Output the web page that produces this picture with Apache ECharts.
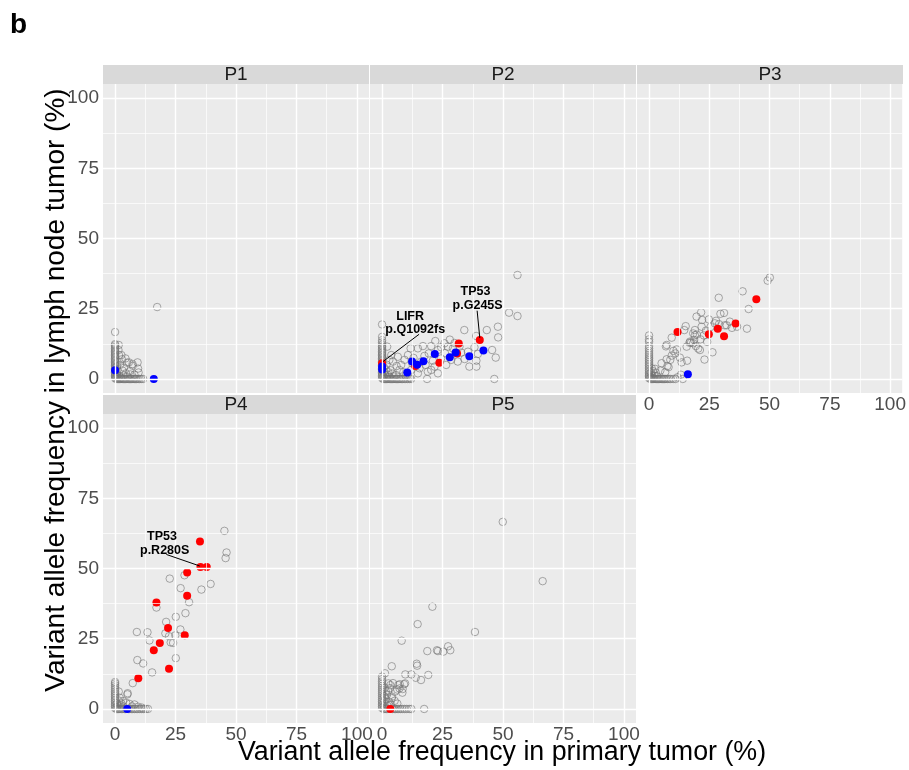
<!DOCTYPE html>
<html><head><meta charset="utf-8">
<script src="https://cdn.jsdelivr.net/npm/echarts@6/dist/echarts.min.js"></script>
<style>html,body{margin:0;padding:0;background:#fff}#c{width:909px;height:770px}</style>
</head><body><div id="c"></div>
<script>
// ---------------- data ----------------
const panelNames = ['P1', 'P2', 'P3', 'P4', 'P5'];
const majorTicks = [0, 25, 50, 75, 100];
const minorTicks = [12.5, 37.5, 62.5, 87.5];
const xTitle = 'Variant allele frequency in primary tumor (%)';
const yTitle = 'Variant allele frequency in lymph node tumor (%)';
const figLetter = 'b';

const p1Gray = [
 [0,0.3],[0,0.8],[0,1.3],[0,1.8],[0,2.3],[0,2.8],[0,3.3],[0,3.8],[0,4.3],[0,4.8],[0,5.3],[0,5.8],[0,6.3],[0,6.8],[0,7.3],[0,7.8],[0,8.3],[0,8.8],[0,9.3],[0,9.8],[0,10.3],[0,10.9],[0,11.4],[0,12.0],[0,12.4],[0,16.7],
 [0.4,0],[0.9,0],[1.4,0],[1.9,0],[2.4,0],[2.9,0],[3.4,0],[3.9,0],[4.4,0],[4.9,0],[5.4,0],[5.9,0],[6.4,0],[6.9,0],[7.4,0],[7.9,0],[8.4,0],[8.9,0],[9.5,0],[10.1,0],[10.8,0],[11.6,0],
 [0.5,0.6],[0.8,1.5],[0.6,2.4],[1.0,3.2],[0.7,4.5],[1.2,0.5],[1.8,1.0],[2.5,0.4],[1.5,12.1],[1.4,10.3],[2.6,8.5],[1.6,8.5],[2.8,7.0],[4.3,7.3],[5.7,5.9],[5.0,5.8],[7.2,5.3],[7.3,4.7],[9.3,5.9],[9.5,3.7],[3.7,4.0],[2.0,5.0],[1.0,6.0],[3.0,3.0],[6.1,2.8],[4.5,2.0],[8.0,1.5],[9.7,2.3],[6.3,1.6],[3.5,1.2],[5.2,0.8],[17.4,25.6]
];
const p1Red = [];
const p1Blue = [[0,3.1],[16,0]];

const p2Gray = [
 [0,0.3],[0,0.8],[0,1.3],[0,1.8],[0,2.3],[0,2.8],[0,3.3],[0,3.8],[0,4.3],[0,4.8],[0,5.3],[0,5.8],[0,6.3],[0,6.8],[0,7.3],[0,7.8],[0,8.3],[0,8.8],[0,9.3],[0,9.8],[0,10.4],[0,11.0],[0,11.6],[0,12.2],[0,13.0],[0,13.8],[0,15.0],[0,19.4],
 [0.4,0],[0.9,0],[1.4,0],[1.9,0],[2.4,0],[2.9,0],[3.4,0],[3.9,0],[4.4,0],[4.9,0],[5.4,0],[5.9,0],[6.4,0],[6.9,0],[7.4,0],[7.9,0],[8.5,0],[9.1,0],[9.8,0],[10.5,0],[11.3,0],[12.0,0],[18.6,0],[46.4,0],
 [0.6,0.8],[1.1,1.6],[0.8,2.6],[1.5,3.4],[0.7,4.2],[1.9,0.6],[2.4,1.5],[3.1,0.7],[2.6,2.4],[3.5,3.1],[1.8,5.1],[4.2,1.9],[4.8,0.9],[5.8,1.4],[2.1,11.5],[3.8,8.5],[6.5,7.9],[7.9,5],[7.2,3.2],[6.0,4.6],[4.5,6.2],[3.0,6.8],[8.8,2.4],[9.8,1.2],
 [10.7,8.5],[11.8,10.9],[14.8,10.9],[16.9,11.7],[20.3,11.7],[19.3,9.1],[23.1,10.3],[24.4,11.3],[25.8,12.7],[27.2,11.5],[29.3,10.9],[32.7,9.4],[34.1,7.1],[36.1,4.4],[39,4.4],[39,6.5],[39.6,8.9],[38.2,11.3],[38.9,15.3],[34,17.4],[43.3,17.4],[47.9,18.6],[48,14.8],[45.5,10.3],[47,7.6],[52.5,23.6],[56,22.4],[56,37],
 [26.5,5],[28.6,6.8],[21.7,4.4],[18.9,2.6],[14.8,2],[12,3.2],[16.2,6.2],[9.3,6.8],[24.4,7.3],[31.3,6.2],[32,11.5],[35.5,9.7],[11.4,0.4],[20.3,3.2],[23.1,2],[15.5,3.8],[13,7.5],[17.5,8.2],[21,6.5],[26,9.2],[30,12.8],[28,14],[22,13.5],[18,5],[12.5,5.5]
];
const p2Red = [[0,5.6],[13.7,4.6],[23.7,5.8],[31,9.1],[31.7,12.6],[40.4,13.9]];
const p2Blue = [[0,4.4],[0,3.4],[10.4,2.3],[12.4,6.2],[14.5,5.1],[17.1,6.3],[21.8,8.9],[28,7.7],[30.4,9.4],[36.1,8.1],[41.9,10.1]];

const p3Gray = [
 [0,0.3],[0,0.8],[0,1.3],[0,1.8],[0,2.4],[0,3.0],[0,3.6],[0,4.2],[0,4.8],[0,5.4],[0,6.0],[0,6.6],[0,7.2],[0,7.8],[0,8.5],[0,9.2],[0,10],[0,10.8],[0,11.7],[0,13.2],[0,14.1],[0,15.5],
 [0.5,0],[1,0],[1.5,0],[2,0],[2.5,0],[3,0],[3.5,0],[4,0],[4.5,0],[5,0],[5.5,0],[6,0],[6.5,0],[7,0],[7.6,0],[8.3,0],[9,0],[10,0],[11,0],[11.8,0.6],[13.2,1.5],[14,0],
 [0.6,0.6],[1.2,1.2],[0.8,2.2],[1.6,0.5],[2.2,1.1],[1.5,2.8],[2.8,2.2],[3.4,1],[1.1,3.8],[2.5,3.6],[4.7,3],[6.7,2.4],[5.2,5.6],[7.3,7],[8.1,4.2],[7.6,4.6],[8.8,6.8],[9.4,8.3],[10.1,10],[10.9,9.1],[11.5,10.5],[12.8,7.6],[13.5,5.9],[7,11.6],[7.3,12.1],[9.4,14.7],[15.8,6.5],[15.6,11.5],[17,13.3],[18.3,12.7],[19,15.6],[21.1,10.3],[21.8,18.6],
 [50.1,36.1],[49.2,35],[38.8,31.2],[28.9,28.9],[41.3,24.9],[21.6,23.7],[19.7,22.2],[29.6,23.2],[31.1,23.5],[24.8,21.2],[22,21],[15.2,18.8],[14.6,17.4],[27.8,20.7],[27.3,19.8],[31.4,19.1],[32.2,19.1],[36.5,18.6],[40.6,17.9],[34.4,18.2],[19,17.4],[19.8,15.8],[18.3,16.2],[16.8,12.9],[17.4,12.9],[18.7,13.9],[19.4,11.7],[20.4,10.8],[21.3,14.1],[22.7,15.5],[23.6,17.2],[24.1,13.2],[26.3,9.5],[23,6.9],[25.5,18.5],[33.5,20.4],[29,19.5]
];
const p3Red = [[11.8,16.7],[24.8,15.9],[28.5,17.9],[31.1,15.2],[35.9,19.7],[44.5,28.4]];
const p3Blue = [[16.1,1.7]];

const p4Gray = [
 [0,0.3],[0,0.9],[0,1.5],[0,2.1],[0,2.7],[0,3.3],[0,3.9],[0,4.5],[0,5.1],[0,5.7],[0,6.3],[0,7],[0,7.7],[0,8.4],[0,9.1],[0,9.6],
 [0.5,0],[1,0],[1.5,0],[2,0],[2.6,0],[3.2,0],[3.8,0],[4.4,0],[5.5,0],[6.1,0],[6.7,0],[7.3,0],[8,0],[8.7,0],[9.4,0],[10.2,0],[11,0],[11.8,0],[12.7,0],[13.6,0],
 [0.6,0.6],[1.1,1.2],[0.8,2.0],[1.5,6.2],[1.9,4],[3.3,2.8],[4.6,2.2],[6,1.8],[8,1.6],[5.1,5.2],[5.2,5.6],[2.4,1.3],[3.6,0.8],[1.5,3],[2.6,2],[7,0.9],[9.5,0.8],[11,0.5],
 [45.2,63.4],[46.1,55.7],[45.7,53.7],[39.5,44.5],[35.7,42.5],[28.7,47.6],[22.6,46.4],[27.1,43],[30.6,38],[17.1,36.1],[29.1,34.1],[25.1,32.8],[27,28.3],[21.1,31],[20.8,26.9],[22.3,25.9],[24.9,26.2],[9,27.4],[13.4,27.3],[14.2,24.4],[23,23.7],[24,23.5],[9.2,17.4],[11.6,16.2],[25.1,18.1],[15.3,13],[7.3,9.2]
];
const p4Red = [[35.1,59.6],[35.3,50.5],[37.9,50.5],[29.8,48.6],[29.8,40.3],[17.1,37.9],[21.9,28.8],[28.8,26.2],[18.5,23.5],[16,20.9],[22.3,14.3],[9.6,10.9]];
const p4Blue = [[5,0]];

const p5Gray = [
 [0,0.3],[0,0.9],[0,1.5],[0,2.1],[0,2.7],[0,3.3],[0,4.0],[0,4.7],[0,5.4],[0,6.1],[0,6.8],[0,7.5],[0,8.2],[0,9.0],[0,9.8],[0,10.6],[0,11.5],
 [0.6,0],[1.2,0],[1.8,0],[2.4,0],[4.4,0],[5,0],[5.6,0],[6.2,0],[6.9,0],[7.6,0],[8.4,0],[9.3,0],[10.2,0],[11.2,0],[12.1,0],[17.4,0],
 [0.7,1],[1.3,1.8],[0.9,2.8],[1.6,3.6],[0.8,4.6],[2,5],[1.5,6.3],[1.1,7.6],[2.5,6.5],[3.3,7.4],[3.4,8.5],[4.5,9.2],[2.6,9.1],[1.2,12.7],[4,15.2],[5.4,6.2],[6.3,6.9],[7.2,7.3],[6.7,8.5],[8.5,7.1],[8.4,5.8],[9.1,8.8],[9.5,9.1],[4,3.8],[4.1,4.4],[3,2.5],[5.2,2.9],[6.3,1.9],[2.2,1.2],[3.6,1.5],[7.3,8.8],[9.6,12.3],[12.1,12.3],[13.9,11.1],[16.1,10.3],[19.1,12.1],
 [49.9,66.6],[66.4,45.5],[20.8,36.4],[14.7,30.2],[38.4,27.4],[8.1,24.3],[27.3,22.3],[18.7,20.6],[22.7,20.9],[23.1,20.6],[25.3,20.4],[28.2,20.9],[14.3,16.1],[14.5,15.4]
];
const p5Red = [[3.4,0]];
const p5Blue = [];

// annotation texts: [panel index, text, x, y]
const annoTexts = [
 [1, 'LIFR', 11.6, 22.2],
 [1, 'p.Q1092fs', 13.7, 17.7],
 [1, 'TP53', 38.6, 31.0],
 [1, 'p.G245S', 39.5, 26.3],
 [3, 'TP53', 19.4, 61.5],
 [3, 'p.R280S', 20.5, 56.4]
];
// annotation segments: [panel index, x1, y1, x2, y2]
const annoSegs = [
 [1, 15.3, 15.9, 0.4, 6.2],
 [1, 39.3, 24.3, 40.4, 14.6],
 [3, 21.2, 55.0, 35.0, 50.9]
];

const grayData = [p1Gray, p2Gray, p3Gray, p4Gray, p5Gray];
const redData = [p1Red, p2Red, p3Red, p4Red, p5Red];
const blueData = [p1Blue, p2Blue, p3Blue, p4Blue, p5Blue];

// ---------------- layout ----------------
const FONT = 'Liberation Sans, Arial, Helvetica, sans-serif';
const PL = [103, 370, 637, 103, 370];
const PT = [84, 84, 84, 414, 414];
const PW = 266, PH = 309, STRIP = 19;
const showX = [false, false, true, true, true];
const showY = [true, false, false, true, false];

const grids = [], xAxes = [], yAxes = [], series = [], graphics = [];

for (let i = 0; i < 5; i++) {
  grids.push({left: PL[i], top: PT[i], width: PW, height: PH, show: true,
    backgroundColor: '#EBEBEB', borderWidth: 0, containLabel: false});
  const common = {
    type: 'value', gridIndex: i, min: -5, max: 105,
    axisLine: {show: false}, splitLine: {show: false}, minorSplitLine: {show: false}
  };
  xAxes.push(Object.assign({}, common, {
    axisTick: {show: showX[i], customValues: majorTicks, length: 3, lineStyle: {color: '#333333', width: 1}},
    axisLabel: {show: showX[i], customValues: majorTicks, color: '#4D4D4D', fontSize: 19, fontFamily: FONT, margin: 2}
  }));
  yAxes.push(Object.assign({}, common, {
    axisTick: {show: showY[i], customValues: majorTicks, length: 3, lineStyle: {color: '#333333', width: 1}},
    axisLabel: {show: showY[i], customValues: majorTicks, color: '#4D4D4D', fontSize: 19, fontFamily: FONT, margin: 4}
  }));

  const ml = [];
  minorTicks.forEach(v => {
    ml.push({xAxis: v, lineStyle: {width: 0.7}});
    ml.push({yAxis: v, lineStyle: {width: 0.7}});
  });
  majorTicks.forEach(v => {
    ml.push({xAxis: v, lineStyle: {width: 1.4}});
    ml.push({yAxis: v, lineStyle: {width: 1.4}});
  });
  series.push({
    type: 'scatter', xAxisIndex: i, yAxisIndex: i, data: [], z: 1, silent: true,
    markLine: {silent: true, symbol: ['none', 'none'], label: {show: false},
      lineStyle: {color: '#FFFFFF', type: 'solid', opacity: 1}, animation: false, data: ml}
  });
  series.push({
    type: 'scatter', xAxisIndex: i, yAxisIndex: i, data: grayData[i], z: 2,
    symbol: 'circle', symbolSize: 7.5,
    itemStyle: {color: 'rgba(0,0,0,0)', borderColor: 'rgba(115,115,115,0.6)', borderWidth: 1, opacity: 1}
  });
  series.push({
    type: 'scatter', xAxisIndex: i, yAxisIndex: i, data: redData[i], z: 3,
    symbol: 'circle', symbolSize: 8, itemStyle: {color: '#FF0000', opacity: 1}
  });
  series.push({
    type: 'scatter', xAxisIndex: i, yAxisIndex: i, data: blueData[i], z: 4,
    symbol: 'circle', symbolSize: 8, itemStyle: {color: '#0000FF', opacity: 1}
  });

  // strip
  graphics.push({type: 'rect', shape: {x: PL[i], y: PT[i] - STRIP, width: PW, height: STRIP},
    style: {fill: '#D9D9D9'}, silent: true});
  graphics.push({type: 'text', x: PL[i] + PW / 2, y: PT[i] - STRIP / 2 + 0.5,
    style: {text: panelNames[i], fill: '#1A1A1A', font: '19px ' + FONT, textAlign: 'center', textVerticalAlign: 'middle'}, silent: true});
}

annoSegs.forEach(s => {
  series.push({
    type: 'line', xAxisIndex: s[0], yAxisIndex: s[0], data: [[s[1], s[2]], [s[3], s[4]]],
    symbol: 'none', z: 5, silent: true, lineStyle: {color: '#000000', width: 1, opacity: 1}
  });
});
annoTexts.forEach(t => {
  series.push({
    type: 'scatter', xAxisIndex: t[0], yAxisIndex: t[0], data: [[t[2], t[3]]],
    symbol: 'circle', symbolSize: 1, z: 6, silent: true,
    itemStyle: {color: 'rgba(0,0,0,0)', opacity: 1},
    label: {show: true, position: 'inside', formatter: t[1], color: '#000000', opacity: 1,
      fontWeight: 'bold', fontSize: 12.5, fontFamily: FONT}
  });
});

graphics.push({type: 'text', x: 10, y: 25,
  style: {text: figLetter, fill: '#000000', font: 'bold 28px ' + FONT, textAlign: 'left', textVerticalAlign: 'middle'}});
graphics.push({type: 'text', x: 502, y: 753,
  style: {text: xTitle, fill: '#000000', font: '26.8px ' + FONT, textAlign: 'center', textVerticalAlign: 'middle'}});
graphics.push({type: 'text', x: 56, y: 390, rotation: Math.PI / 2,
  style: {text: yTitle, fill: '#000000', font: '28px ' + FONT, textAlign: 'center', textVerticalAlign: 'middle'}});

const chart = echarts.init(document.getElementById('c'), null, {renderer: 'canvas'});
chart.setOption({
  animation: false,
  backgroundColor: '#FFFFFF',
  grid: grids, xAxis: xAxes, yAxis: yAxes, series: series, graphic: graphics
});
</script></body></html>
